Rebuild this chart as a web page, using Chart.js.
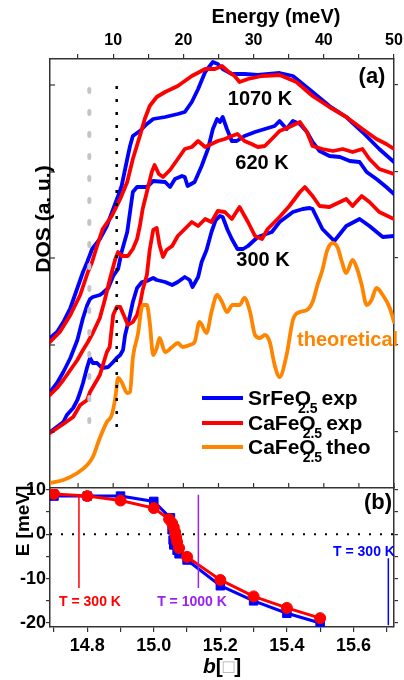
<!DOCTYPE html>
<html><head><meta charset="utf-8">
<script src="https://cdn.jsdelivr.net/npm/chart.js@4"></script>
<style>
html,body{margin:0;padding:0;background:#fff;}
#wrap{position:relative;width:404px;height:680px;overflow:hidden;background:#fff;}
canvas{position:absolute;left:0;}
#c1{top:0;} #c2{top:470px;}
</style></head><body>
<div id="wrap"><canvas id="c1" width="404" height="490"></canvas><canvas id="c2" width="404" height="210"></canvas></div>
<script>
// ---------------- DATA (top panel: DOS vs energy, meV / a.u.) ----------------
const blue1070E = [1.0,2.0,2.9,3.9,4.9,5.7,6.3,7.0,8.1,9.1,10.0,10.7,11.2,12.0,12.4,12.8,13.8,14.8,15.7,17.4,19.2,20.2,21.2,22.1,23.1,24.2,24.9,25.6,26.9,28.7,30.6,33.7,35.6,37.0,38.4,40.8,43.2,45.5,47.9,50.0];
const blue1070D = [15.0,15.6,16.6,18.0,20.0,21.6,22.6,23.9,24.9,26.2,27.9,29.2,30.2,32.9,34.2,35.2,35.7,36.4,36.9,37.1,37.4,37.6,38.6,39.9,41.6,42.6,42.4,41.9,41.4,41.4,41.3,41.5,41.2,40.4,39.6,38.2,37.1,35.6,33.9,32.6];
const red1070E = [1.0,2.4,3.9,5.3,6.4,7.0,7.7,8.5,9.8,11.0,12.0,12.8,13.8,14.5,15.2,16.2,17.4,19.2,21.2,23.1,24.5,25.5,26.3,27.3,28.0,29.2,31.2,33.7,36.1,38.4,40.8,43.2,45.5,47.5,48.9,50.0];
const red1070D = [14.6,15.6,17.3,19.3,21.6,22.6,24.2,25.9,27.2,28.9,30.6,32.9,35.2,36.9,38.2,39.1,39.6,40.2,41.2,41.9,41.9,42.2,41.7,41.2,40.6,40.9,41.2,41.3,40.6,39.2,38.1,37.1,35.9,34.9,34.4,33.9];
const blue620E = [1.0,2.0,2.9,3.9,4.9,5.7,6.3,6.7,7.1,8.1,8.5,9.3,10.0,10.7,11.2,12.0,12.4,12.8,13.4,14.8,15.7,17.4,18.1,18.8,19.8,20.2,20.6,21.6,22.6,23.5,24.2,24.8,25.2,25.6,26.2,26.9,27.6,28.7,30.2,31.6,33.0,33.7,34.7,35.6,36.6,37.6,38.4,39.4,40.8,42.3,43.7,45.1,46.1,47.5,48.9,50.0];
const blue620D = [9.6,10.5,11.6,13.0,14.8,17.0,18.3,18.9,19.1,19.3,19.5,20.0,21.2,21.9,23.6,25.6,27.6,29.6,30.1,30.1,30.7,30.6,30.1,30.9,31.2,31.1,30.2,30.6,32.2,33.9,35.9,36.9,36.6,37.1,35.9,34.7,34.7,35.2,35.6,35.9,36.2,36.7,35.9,36.7,36.4,35.6,34.6,33.7,33.2,33.1,32.7,32.6,31.6,30.9,30.1,29.4];
const red620E = [1.0,2.0,2.9,3.9,4.9,5.7,6.4,7.1,8.1,8.8,9.5,10.3,10.7,11.2,12.1,12.8,13.4,13.8,14.2,14.8,15.5,15.9,16.5,17.1,18.1,19.2,20.2,21.2,22.1,23.1,24.0,24.9,25.9,26.9,27.7,28.7,29.7,30.6,31.6,32.6,33.7,35.1,36.6,37.6,38.4,39.8,41.3,42.7,44.1,45.5,46.5,47.9,50.0];
const red620D = [9.3,10.0,10.8,11.8,12.8,13.8,14.6,15.5,17.0,18.8,20.8,22.9,23.6,23.2,23.2,23.9,24.9,26.2,27.9,29.6,31.6,32.3,31.4,31.1,31.8,32.9,33.9,34.1,34.7,34.1,34.4,34.7,34.9,35.2,35.4,34.7,34.4,34.1,34.2,34.9,35.7,36.1,36.6,35.6,34.2,33.9,33.7,33.9,33.6,33.9,32.9,31.9,31.4];
const blue300E = [1.0,2.9,3.4,4.3,4.9,5.3,5.7,6.3,6.7,7.1,7.7,8.4,9.3,10.0,10.5,11.0,11.4,11.7,12.4,12.8,13.4,14.1,14.8,15.7,16.2,17.4,18.4,19.2,20.2,20.9,21.3,22.1,22.6,23.3,24.0,24.6,25.2,25.6,26.3,26.9,27.7,28.5,29.2,30.6,32.6,33.7,35.6,37.0,38.0,38.4,39.8,41.5,43.2,45.1,46.5,48.4,50.0];
const blue300D = [5.6,6.6,7.3,8.0,8.8,9.6,10.5,12.1,13.0,12.5,12.5,12.0,12.1,12.6,13.0,13.3,13.8,15.3,17.3,18.6,20.0,20.6,20.7,21.0,20.8,20.6,20.3,20.6,21.1,20.8,20.1,21.1,22.6,23.8,25.6,26.8,27.2,27.1,25.8,24.9,23.9,23.9,24.2,25.1,25.6,26.6,27.6,27.9,28.0,27.9,25.9,24.7,26.2,26.9,26.2,25.1,25.2];
const red300E = [1.0,2.9,4.3,5.3,6.3,6.7,7.7,8.1,9.1,9.5,10.0,10.5,11.0,11.5,12.1,12.8,13.4,13.8,14.2,14.8,15.2,15.7,16.2,16.6,17.1,17.6,18.4,19.2,20.2,21.2,22.1,23.1,24.0,24.9,25.9,26.9,28.0,29.2,30.2,31.2,32.0,33.7,35.1,36.6,37.3,38.4,39.4,40.8,43.2,44.1,45.4,46.5,47.9,50.0];
const red300D = [5.5,6.4,7.1,8.3,8.8,9.6,10.8,11.3,13.6,14.1,17.3,18.1,18.1,17.3,16.3,16.6,17.3,18.3,19.8,21.3,23.8,25.8,26.0,24.3,23.1,23.8,24.2,25.2,25.9,26.6,26.2,26.9,26.6,27.7,27.6,26.9,28.1,26.6,25.2,24.9,25.9,27.1,28.2,29.6,30.1,29.2,28.2,28.1,28.9,28.2,29.2,28.6,27.6,26.9];
const theoE = [1.0,2.9,4.9,6.3,7.1,8.1,9.1,9.8,10.3,10.7,11.2,12.0,12.4,12.8,13.5,14.2,14.8,15.2,15.7,16.2,16.6,17.4,18.4,19.2,19.9,20.9,21.6,22.3,23.3,24.0,24.8,25.5,26.2,27.0,28.0,28.7,29.5,30.2,30.9,31.6,32.3,33.0,33.7,34.7,35.6,36.6,37.6,38.4,39.1,39.8,40.5,41.3,42.0,42.5,43.2,44.1,44.8,45.4,46.1,46.8,47.5,48.4,49.4,50.0];
const theoD = [0.5,0.8,1.5,2.3,3.1,5.0,6.6,7.3,9.0,11.0,10.6,9.5,9.6,13.0,15.3,18.3,18.3,16.6,13.3,14.0,15.0,13.6,14.1,14.5,14.1,14.3,14.6,16.6,15.5,17.6,19.3,18.6,17.6,18.3,18.3,19.0,17.6,15.3,15.0,15.3,14.6,12.3,11.1,13.3,16.8,17.6,17.8,18.6,20.3,21.8,23.8,24.5,24.0,22.8,21.5,22.8,21.8,20.3,18.3,18.8,20.0,19.3,18.0,16.6];
const dosTicks = [5.6, 14.3, 23.0, 31.6, 40.3];
const grayLineE = 6.6, grayLineD = [39.9, 6.4];
const blackLineE = 10.5, blackLineD = [40.2, 5.6];

// ---------------- DATA (bottom panel: E vs b) ----------------
const bBlue = [14.70,14.80,14.90,15.00,15.05,15.055,15.058,15.06,15.07,15.076,15.10,15.20,15.30,15.40,15.50];
const eBlue = [8.6,8.6,8.6,7.4,3.7,1.0,-1.3,-2.4,-3.6,-4.4,-5.8,-11.6,-15.0,-17.8,-20.0];
const bRed = [14.70,14.80,14.90,15.00,15.046,15.055,15.06,15.064,15.067,15.07,15.076,15.10,15.20,15.30,15.40,15.50];
const eRed = [9.1,8.6,7.6,5.9,3.4,2.5,1.6,0.5,-0.6,-1.7,-3.1,-5.1,-10.3,-14.0,-16.6,-18.9];
const markB = [14.775, 15.134, 15.705];
const markTop = [8.4, 8.9, -5.4];
const markBottom = [-12.1, -12.1, -20.5];

// ---------------- STYLE ----------------
const FONT = "'Liberation Sans', Arial, Helvetica, sans-serif";
const FRAME = '#333';
const BLUE = '#0000ff', RED = '#ff0000', ORANGE = '#ff8400', PURPLE = '#9a22ee', GRAY = '#c4c4c4';
Chart.defaults.font.family = FONT;
Chart.defaults.font.weight = 'bold';
Chart.defaults.color = '#000';

const pts = (xs, ys) => xs.map((x, i) => ({x: x, y: ys[i]}));

function innerTicks(ids, len) {
  return { id: 'innerTicks', afterDraw(chart) {
    const ctx = chart.ctx, ca = chart.chartArea;
    ctx.save(); ctx.strokeStyle = FRAME; ctx.lineWidth = 1.2;
    ids.forEach(id => {
      const s = chart.scales[id];
      s.ticks.forEach(t => {
        const p = s.getPixelForValue(t.value);
        ctx.beginPath();
        if (s.isHorizontal()) {
          const y0 = s.position === 'bottom' ? ca.bottom : ca.top;
          const d = s.position === 'bottom' ? -len : len;
          ctx.moveTo(p, y0); ctx.lineTo(p, y0 + d);
        } else {
          const x0 = s.position === 'left' ? ca.left : ca.right;
          const d = s.position === 'left' ? len : -len;
          ctx.moveTo(x0, p); ctx.lineTo(x0 + d, p);
        }
        ctx.stroke();
      });
    });
    ctx.restore();
  }};
}

function txt(ctx, s, x, y, size, color, align, rot, style) {
  ctx.save();
  ctx.font = (style || '') + ' bold ' + size + 'px ' + FONT;
  ctx.fillStyle = color || '#000';
  ctx.textAlign = align || 'center';
  ctx.textBaseline = 'middle';
  ctx.translate(x, y);
  if (rot) ctx.rotate(rot);
  ctx.fillText(s, 0, 0);
  ctx.restore();
}

function legendRow(ctx, y, color, main, sub, tail) {
  ctx.save();
  ctx.strokeStyle = color; ctx.lineWidth = 4; ctx.lineCap = 'butt';
  ctx.beginPath(); ctx.moveTo(202, y); ctx.lineTo(243, y); ctx.stroke();
  ctx.fillStyle = '#000'; ctx.textAlign = 'left'; ctx.textBaseline = 'alphabetic';
  const base = y + 7;
  ctx.font = 'bold 21px ' + FONT;
  ctx.fillText(main, 248, base);
  const w = ctx.measureText(main).width;
  const sx = 248 + w - 13;
  ctx.font = 'bold 14px ' + FONT;
  ctx.fillText(sub, sx, base + 8);
  const sw = ctx.measureText(sub).width;
  ctx.font = 'bold 21px ' + FONT;
  ctx.fillText(tail, sx + sw + 4, base);
  ctx.restore();
}

const topTexts = { id: 'topTexts', afterDraw(chart) {
  const ctx = chart.ctx;
  txt(ctx, 'Energy (meV)', 276, 17, 20);
  txt(ctx, 'DOS (a. u.)', 44, 219, 21, '#000', 'center', -Math.PI / 2);
  txt(ctx, '(a)', 372, 77, 22);
  txt(ctx, '1070 K', 260, 99, 20);
  txt(ctx, '620 K', 262, 163, 20);
  txt(ctx, '300 K', 263, 260, 20);
  txt(ctx, 'theoretical', 297, 340, 20, ORANGE, 'left');
  legendRow(ctx, 398, BLUE, 'SrFeO', '2.5', 'exp');
  legendRow(ctx, 423, RED, 'CaFeO', '2.5', 'exp');
  legendRow(ctx, 447, ORANGE, 'CaFeO', '2.5', 'theo');
}};

const botTexts = { id: 'botTexts', afterDraw(chart) {
  const ctx = chart.ctx;
  txt(ctx, '(b)', 378, 33, 22);
  txt(ctx, 'E [meV]', 24, 51, 19, '#000', 'center', -Math.PI / 2);
  txt(ctx, 'T = 300 K', 90, 132, 14, RED);
  txt(ctx, 'T = 1000 K', 192, 132, 14, PURPLE);
  txt(ctx, 'T = 300 K', 364, 82, 14, BLUE);
  // axis title b[ ]
  ctx.save();
  ctx.textBaseline = 'middle'; ctx.textAlign = 'left'; ctx.fillStyle = '#000';
  let x = 203; const y = 197;
  ctx.font = 'italic bold 21px ' + FONT; ctx.fillText('b', x, y); x += ctx.measureText('b').width;
  ctx.font = 'bold 21px ' + FONT; ctx.fillText('[', x, y); x += ctx.measureText('[').width;
  ctx.fillStyle = '#aaa'; ctx.font = '19px ' + FONT; ctx.fillText('\u25A1', x, y + 1); x += ctx.measureText('\u25A1').width;
  ctx.fillStyle = '#000'; ctx.font = 'bold 21px ' + FONT; ctx.fillText(']', x, y);
  ctx.restore();
}};

const axisGrid = (len) => ({display: true, drawOnChartArea: false, drawTicks: true, tickLength: len, color: FRAME, lineWidth: 1.2});
const axisBorder = {display: true, color: FRAME, width: 1.5};
const zeroPad = s => { s.paddingLeft = 0; s.paddingRight = 0; s.paddingTop = 0; s.paddingBottom = 0; };

const curve = (xs, ys, color, order, extra) => Object.assign({
  data: pts(xs, ys), borderColor: color, backgroundColor: color, borderWidth: 3.8,
  pointRadius: 0, tension: 0, order: order, borderJoinStyle: 'round', borderCapStyle: 'round'
}, extra || {});

// ---------------- TOP CHART ----------------
new Chart(document.getElementById('c1'), {
  type: 'line',
  data: { datasets: [
    curve(blue1070E, blue1070D, BLUE, 3),
    curve(red1070E, red1070D, RED, 2),
    curve(blue620E, blue620D, BLUE, 3),
    curve(red620E, red620D, RED, 2),
    curve(blue300E, blue300D, BLUE, 3),
    curve(red300E, red300D, RED, 2),
    curve(theoE, theoD, ORANGE, 1, {cubicInterpolationMode: 'monotone'}),
    { data: grayLineD.map(d => ({x: grayLineE, y: d})), borderColor: GRAY, borderWidth: 4, borderDash: [3, 19], borderCapStyle: 'round', pointRadius: 0, order: 0 },
    { data: blackLineD.map(d => ({x: blackLineE, y: d})), borderColor: '#000', borderWidth: 2.5, borderDash: [3, 10], borderCapStyle: 'butt', pointRadius: 0, order: 0 }
  ]},
  options: {
    responsive: false, animation: false, events: [],
    layout: { padding: 0 },
    plugins: { legend: { display: false }, tooltip: { enabled: false } },
    scales: {
      x: { type: 'linear', position: 'top', min: 1, max: 50,
           ticks: { stepSize: 5, includeBounds: false, autoSkip: false, maxRotation: 0, padding: 4, font: { size: 16, weight: 'bold' },
                    callback: v => (Math.round(v) % 10 === 0 ? String(Math.round(v)) : '') },
           grid: axisGrid(5), border: axisBorder,
           afterFit: s => { s.height = 59; zeroPad(s); } },
      x2: { type: 'linear', position: 'bottom', min: 1, max: 50,
           ticks: { display: false, stepSize: 5, includeBounds: false, autoSkip: false },
           grid: { display: false }, border: axisBorder,
           afterFit: s => { s.height = 2; zeroPad(s); } },
      y: { type: 'linear', position: 'left', min: 0, max: 42.9,
           afterBuildTicks: s => { s.ticks = dosTicks.map(v => ({ value: v })); },
           ticks: { display: false }, grid: { display: false }, border: axisBorder,
           afterFit: s => { s.width = 50; zeroPad(s); } },
      y2: { type: 'linear', position: 'right', min: 0, max: 42.9,
           afterBuildTicks: s => { s.ticks = dosTicks.map(v => ({ value: v })); },
           ticks: { display: false }, grid: axisGrid(4), border: axisBorder,
           afterFit: s => { s.width = 10; zeroPad(s); } }
    }
  },
  plugins: [innerTicks(['x2', 'y'], 5), topTexts]
});

// ---------------- BOTTOM CHART ----------------
const markColors = [RED, PURPLE, BLUE];
const markSets = markB.map((b, i) => ({
  data: [{ x: b, y: markTop[i] }, { x: b, y: markBottom[i] }],
  borderColor: markColors[i], borderWidth: 1.5, pointRadius: 0, order: 0
}));

new Chart(document.getElementById('c2'), {
  type: 'line',
  data: { datasets: [
    { data: [{ x: 14.688, y: 0 }, { x: 15.722, y: 0 }], borderColor: '#000', borderWidth: 2, borderDash: [2, 9], pointRadius: 0, order: 5 },
    { data: pts(bBlue, eBlue), borderColor: BLUE, backgroundColor: BLUE, borderWidth: 3, pointStyle: 'rect', pointRadius: 6, pointBorderWidth: 1, order: 2 },
    { data: pts(bRed, eRed), borderColor: RED, backgroundColor: RED, borderWidth: 3, pointStyle: 'circle', pointRadius: 5.5, pointBorderWidth: 1, order: 1 }
  ].concat(markSets) },
  options: {
    responsive: false, animation: false, events: [],
    layout: { padding: { top: 19, left: 0, right: 0, bottom: 0 } },
    plugins: { legend: { display: false }, tooltip: { enabled: false } },
    scales: {
      x: { type: 'linear', position: 'bottom', min: 14.688, max: 15.722,
           ticks: { stepSize: 0.1, maxTicksLimit: 100, includeBounds: false, autoSkip: false, maxRotation: 0, padding: 3, font: { size: 18, weight: 'bold' },
                    callback: v => { const r = Math.round(v * 10); return r % 2 === 0 ? (r / 10).toFixed(1) : ''; } },
           grid: axisGrid(5), border: axisBorder,
           afterFit: s => { s.height = 53; zeroPad(s); } },
      y: { type: 'linear', position: 'left', min: -20.9, max: 10.2,
           ticks: { stepSize: 5, includeBounds: false, autoSkip: false, padding: 0, font: { size: 18, weight: 'bold' },
                    callback: v => (Math.round(v) % 10 === 0 ? String(Math.round(v)) : '') },
           grid: axisGrid(4), border: axisBorder,
           afterFit: s => { s.width = 50; zeroPad(s); } },
      y2: { type: 'linear', position: 'right', min: -20.9, max: 10.2,
           ticks: { display: false, stepSize: 5, includeBounds: false },
           grid: axisGrid(4), border: axisBorder,
           afterFit: s => { s.width = 10; zeroPad(s); } }
    }
  },
  plugins: [botTexts]
});
</script></body></html>
